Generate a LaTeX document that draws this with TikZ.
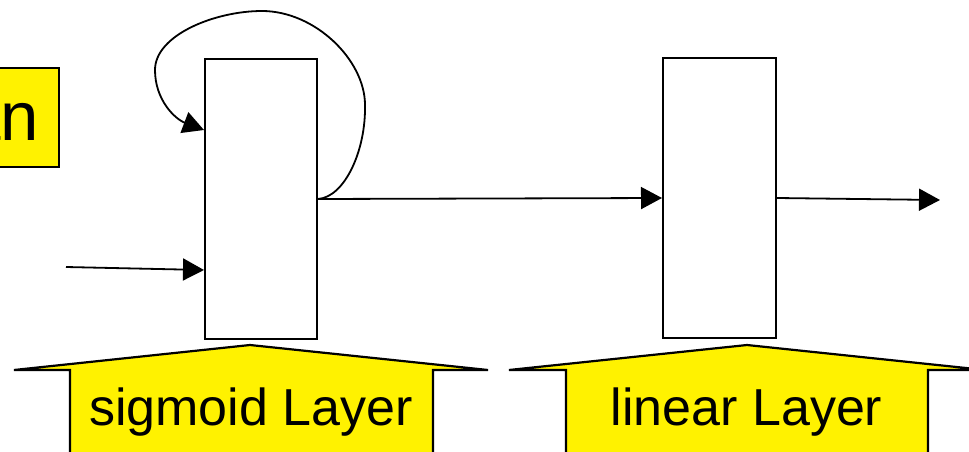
\documentclass[tikz,border=0pt]{standalone}
\usepackage{fontspec}
\setmainfont{Liberation Sans}
\usetikzlibrary{arrows.meta}
\begin{document}
\begin{tikzpicture}[x=1pt,y=-1pt,
  blk/.style={draw, line width=2pt, minimum width=112pt, minimum height=280pt, inner sep=0pt},
  arr/.style={line width=1.8pt, -{Triangle[length=21pt,width=22pt]}},
  uparrow/.style={draw, line width=2.2pt, fill=yellow, line join=miter},
  lbl/.style={font=\fontsize{52}{52}\selectfont, anchor=base, inner sep=0pt}]
\useasboundingbox (0,0) rectangle (969,452);
\clip (0,0) rectangle (969,452);
% Elman box (clipped at left)
\node[draw, line width=2pt, fill=yellow, minimum width=260pt, minimum height=99pt, anchor=east, inner sep=0pt] (elmanbox) at (60,117.5) {};
\node[font=\fontsize{69}{69}\selectfont, anchor=base east, inner sep=0pt] (elman) at (39.5,140) {Elman};
% layer boxes
\node[blk] (sig) at (261,199) {};
\node[blk, minimum width=113pt] (lin) at (719.5,198) {};
% connectors
\coordinate (in) at (66,267);
\coordinate (out) at (940,200);
\draw[arr] (in) -- ([yshift=-71pt]sig.west);
\draw[arr] (sig.east) -- (lin.west);
\draw[arr] (lin.east) -- (out);
\draw[arr] (sig.east) .. controls (345,197) and (366,150) .. (365,105)
  .. controls (365,60) and (315,11) .. (262,11)
  .. controls (215,11) and (155,35) .. (155,70)
  .. controls (155,100) and (175,119) .. ([yshift=69pt]sig.west);
% yellow up-arrows
\draw[uparrow] (14,370) -- (250,345) -- (488,370) -- (433,370) -- (433,470) -- (70,470) -- (70,370) -- cycle;
\draw[uparrow] (509,370) -- (747,345) -- (985,370) -- (928,370) -- (928,470) -- (566,470) -- (566,370) -- cycle;
\node[lbl] (siglbl) at (251,425) {sigmoid Layer};
\node[lbl] (linlbl) at (746.5,425) {linear Layer};
\end{tikzpicture}
\end{document}
